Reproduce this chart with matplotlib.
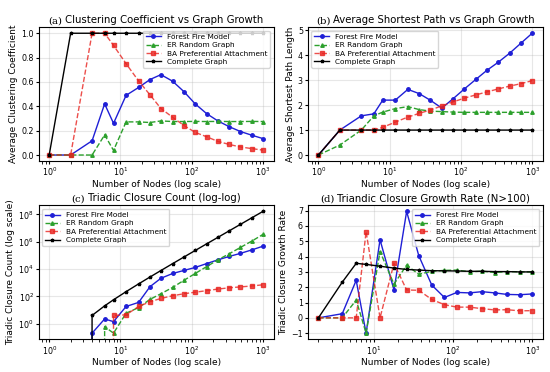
import numpy as np
import matplotlib
matplotlib.use("Agg")
import matplotlib.pyplot as plt
from matplotlib.ticker import MultipleLocator
from matplotlib.offsetbox import TextArea, HPacker, AnchoredOffsetbox

# Graph sizes (number of nodes)
nodes = [1, 2, 4, 6, 8, 12, 18, 26, 37, 54, 78, 112, 162, 233, 335, 483, 695, 1000]
rate_nodes = [2, 4, 6, 8, 12, 18, 26, 37, 54, 78, 112, 162, 233, 335, 483, 695, 1000]

labels = ["Forest Fire Model", "ER Random Graph", "BA Preferential Attachment", "Complete Graph"]

# (a) average clustering coefficient
clust_ff = [0, 0, 0.117, 0.42, 0.26, 0.49, 0.555, 0.62, 0.66, 0.606, 0.52, 0.42, 0.34, 0.28, 0.233, 0.193, 0.163, 0.135]
clust_er = [0, 0, 0, 0.165, 0.038, 0.272, 0.272, 0.267, 0.28, 0.275, 0.275, 0.276, 0.275, 0.276, 0.275, 0.275, 0.276, 0.275]
clust_ba = [0, 0, 1.0, 1.0, 0.90, 0.75, 0.608, 0.494, 0.382, 0.31, 0.242, 0.186, 0.15, 0.112, 0.087, 0.066, 0.053, 0.04]
clust_cg = [0, 1, 1, 1, 1, 1, 1, 1, 1, 1, 1, 1, 1, 1, 1, 1, 1, 1]

# (b) average shortest path length
path_ff = [0, 1.0, 1.57, 1.65, 2.2, 2.2, 2.63, 2.46, 2.2, 1.88, 2.26, 2.65, 3.03, 3.4, 3.72, 4.08, 4.48, 4.88]
path_er = [0, 0.4, 1.0, 1.57, 1.72, 1.86, 1.94, 1.82, 1.76, 1.74, 1.72, 1.71, 1.71, 1.71, 1.71, 1.71, 1.71, 1.71]
path_ba = [0, 1.0, 1.0, 1.0, 1.11, 1.32, 1.52, 1.67, 1.8, 1.97, 2.13, 2.28, 2.41, 2.53, 2.65, 2.76, 2.86, 2.98]
path_cg = [0, 1, 1, 1, 1, 1, 1, 1, 1, 1, 1, 1, 1, 1, 1, 1, 1, 1]

# (c) triadic closure count
tri_ff = [0, 0, 0.2, 2.2, 1.4, 18, 36, 510, 2100, 4700, 7900, 13000, 25000, 47000, 83000, 140000, 250000, 470000]
tri_er = [0, 0, 0, 0.6, 0.2, 5.8, 15, 60, 155, 450, 1500, 4700, 15000, 47000, 130000, 380000, 1100000, 3400000]
tri_ba = [0, 0, 0, 0, 4, 4.4, 18, 40, 70, 110, 155, 200, 260, 340, 420, 490, 570, 700]
tri_cg = [0, 0, 4, 20, 56, 220, 816, 2600, 7770, 24804, 76076, 227920, 695520, 2081156,
          6209895, 18663281, 55709115, 166167000]

# (d) triadic closure growth rate
rate_ff = [0, 0.27, 2.45, -1.0, 5.1, 1.82, 6.95, 4.06, 2.14, 1.33, 1.66, 1.63, 1.71, 1.63, 1.53, 1.51, 1.56]
rate_er = [0, 0, 1.16, -1.0, 4.33, 2.2, 3.44, 2.84, 3.04, 3.1, 3.12, 3.0, 3.05, 2.96, 3.02, 3.01, 3.0]
rate_ba = [0, 0, 0, 5.62, 0, 3.56, 1.82, 1.8, 1.2, 0.86, 0.7, 0.7, 0.6, 0.52, 0.53, 0.46, 0.47]
rate_cg = [0, 2.33, 3.56, 3.49, 3.37, 3.25, 3.16, 3.12, 3.08, 3.07, 3.06, 3.04, 3.04, 3.02, 3.02, 3.0, 3.0]

styles = [
    dict(color="#1f1fd6", linestyle="-", marker="o"),
    dict(color="#2ca02c", linestyle="--", marker="^"),
    dict(color="#e8231f", linestyle="--", marker="s", alpha=0.8),
    dict(color="black", linestyle="-", marker="*"),
]

fig, axes = plt.subplots(2, 2, figsize=(5.5, 3.72), dpi=100)
fig.subplots_adjust(left=0.07, right=0.987, top=0.927, bottom=0.088, wspace=0.145, hspace=0.33)


def draw(ax, x, series, title_tag, title, ylabel, legend_loc, loglog=False):
    for y, lab, st in zip(series, labels, styles):
        ax.plot(x, y, label=lab, linewidth=1.0, markersize=2.5, **st)
    ax.set_xscale("log")
    if loglog:
        ax.set_yscale("log")
    ax.grid(True, alpha=0.3)
    ax.set_xlabel("Number of Nodes (log scale)", fontsize=6.5, labelpad=1)
    ax.set_ylabel(ylabel, fontsize=6.5, labelpad=2)
    ax.tick_params(labelsize=5.7, length=2, pad=1.5)
    ax.legend(loc=legend_loc, fontsize=5.3, handlelength=2.0, borderpad=0.4, labelspacing=0.3)
    # title with serif tag, sans text
    tag = TextArea(title_tag, textprops=dict(family="DejaVu Serif", fontsize=7.3))
    txt = TextArea(title, textprops=dict(family="DejaVu Sans", fontsize=7.3))
    box = HPacker(children=[tag, txt], align="baseline", pad=0, sep=2)
    anchored = AnchoredOffsetbox(loc="lower center", child=box, bbox_to_anchor=(0.5, 1.0),
                                 bbox_transform=ax.transAxes, frameon=False, pad=0.15, borderpad=0)
    ax.add_artist(anchored)


draw(axes[0, 0], nodes, [clust_ff, clust_er, clust_ba, clust_cg], "(a)",
     "Clustering Coefficient vs Graph Growth", "Average Clustering Coefficient", "upper right")
draw(axes[0, 1], nodes, [path_ff, path_er, path_ba, path_cg], "(b)",
     "Average Shortest Path vs Graph Growth", "Average Shortest Path Length", "upper left")
draw(axes[1, 0], nodes, [tri_ff, tri_er, tri_ba, tri_cg], "(c)",
     "Triadic Closure Count (log-log)", "Triadic Closure Count (log scale)", "upper left", loglog=True)
draw(axes[1, 1], rate_nodes, [rate_ff, rate_er, rate_ba, rate_cg], "(d)",
     "Triandic Closure Growth Rate (N>100)", "Triadic Closure Growth Rate", "upper right")
axes[1, 1].yaxis.set_major_locator(MultipleLocator(1))
axes[0, 1].yaxis.set_major_locator(MultipleLocator(1))

fig.savefig("out.png", dpi=100)
